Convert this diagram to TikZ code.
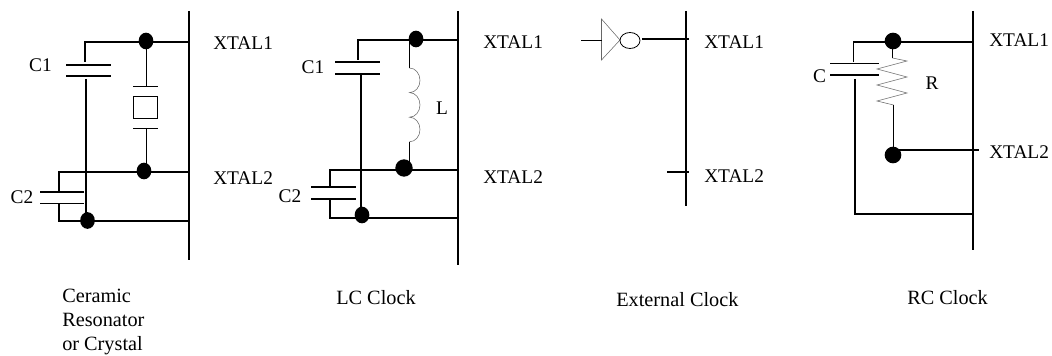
\documentclass[tikz,border=0pt]{standalone}
\usepackage{fontspec}
\setmainfont{Liberation Serif}
\usetikzlibrary{shapes.geometric}
\tikzset{
  bus/.style={line width=1.6pt},
  wire/.style={line width=1.35pt},
  thinwire/.style={line width=0.6pt},
  part/.style={line width=0.4pt,draw=black!60},
  dot/.style={ellipse,fill=black,inner sep=0pt,minimum width=11pt,minimum height=12.5pt},
  lab/.style={inner sep=0pt,font=\fontsize{14.5}{18}\selectfont},
  xtal/.style={lab,anchor=west},
  capt/.style={xtal,font=\fontsize{15.2}{18}\selectfont},
}
\begin{document}
\begin{tikzpicture}[x=0.75pt,y=-0.75pt]
\useasboundingbox (0,0) rectangle (1052,356);
%ceramic resonator
\coordinate (A1) at (189,11); \coordinate (A2) at (189,260);
\draw[bus] (A1)--(A2);
\node[dot] (a1) at (146,41) {};
\node[dot] (a2) at (144,171) {};
\node[dot] (a3) at (87.5,220.5) {};
\coordinate (a4) at (189,42); \coordinate (a5) at (189,172); \coordinate (a6) at (189,221);
\draw[wire] (a4)--(85,42)--(85,62);
\draw[wire] (66,65)--(111,65) (66,76)--(111,76);
\draw[wire] (86,79)--(86,220);
\draw[wire] (a5)--(59,172)--(59,192);
\draw[wire] (40,192)--(84,192) (40,203.5)--(84,203.5);
\draw[wire] (59,204)--(59,221)--(a6);
\draw[thinwire] (146,42)--(146,86.5);
\draw[thinwire] (133,86.5)--(158,86.5) (133,128)--(158,128);
\draw[thinwire] (133.5,96.5) rectangle (157.5,118);
\draw[thinwire] (146,128)--(146,165);
\node[lab] (c1) at (40.5,65) {C1};
\node[lab] (c2) at (22,197) {C2};
\node[xtal] (x1) at (213,43) {XTAL1};
\node[xtal] (x2) at (213,178) {XTAL2};
%LC clock
\coordinate (B1) at (458,11); \coordinate (B2) at (458,265);
\draw[bus] (B1)--(B2);
\node[dot] (b1) at (416,39) {};
\node[dot,minimum width=13pt,minimum height=13pt] (b2) at (404,168) {};
\node[dot] (b3) at (362,215) {};
\coordinate (b4) at (458,40); \coordinate (b5) at (458,170); \coordinate (b6) at (458,218);
\draw[wire] (b4)--(358,40)--(358,60);
\draw[wire] (335,62)--(380,62) (335,74)--(380,74);
\draw[wire] (361,75)--(361,215);
\draw[wire] (b5)--(330,170)--(330,188);
\draw[wire] (311,187)--(356,187) (311,199)--(356,199);
\draw[wire] (330,199)--(330,218)--(b6);
\draw[thinwire] (409.5,40)--(409.5,68);
\draw[part] (409.5,68) arc (-90:90:10.5 and 12.3) arc (-90:90:10.5 and 12.3) arc (-90:90:10.5 and 12.3);
\draw[thinwire] (409.5,142)--(409.5,165);
\node[lab] (c3) at (313,67) {C1};
\node[lab] (c4) at (290,196) {C2};
\node[lab] (l1) at (442,108) {L};
\node[xtal] (x3) at (483,42) {XTAL1};
\node[xtal] (x4) at (483,177) {XTAL2};
%external clock
\coordinate (C1) at (686,11); \coordinate (C2) at (686,206);
\draw[bus] (C1)--(C2);
\draw[part] (601.5,19)--(601.5,60)--(620,40)--cycle;
\node[draw,ellipse,thinwire,inner sep=0pt,minimum width=15pt,minimum height=12pt] (inv) at (630,40.5) {};
\coordinate (d1) at (689,39); \coordinate (d2) at (689,172);
\draw[thinwire] (581,40)--(601.5,40);
\draw[wire] (642,39)--(d1);
\draw[wire] (667,172)--(d2);
\node[xtal] (x5) at (704,42) {XTAL1};
\node[xtal] (x6) at (704,176) {XTAL2};
%RC clock
\coordinate (D1) at (973,11); \coordinate (D2) at (973,250);
\draw[bus] (D1)--(D2);
\node[dot,minimum width=12.5pt] (e1) at (893,41) {};
\node[dot,minimum width=12.5pt] (e2) at (893,155) {};
\coordinate (e3) at (973,42); \coordinate (e4) at (979,150); \coordinate (e5) at (973,214);
\draw[wire] (e3)--(853.5,42)--(853.5,62);
\draw[wire] (830,63.5)--(879,63.5) (830,75)--(879,75);
\draw[wire] (855,79)--(855,214)--(e5);
\draw[wire] (893,150)--(e4);
\draw[thinwire] (892.5,42)--(892.5,58);
\draw[part] (892.5,58)--(907,61)--(877,69)--(907,77)--(877,85)--(907,93)--(877,101)--(893.5,105);
\draw[wire] (893.5,105)--(893.5,155);
\node[lab] (c5) at (819.5,76) {C};
\node[lab] (r1) at (932,83) {R};
\node[xtal] (x7) at (989,40) {XTAL1};
\node[xtal] (x8) at (989,152) {XTAL2};
%captions
\node[capt,align=left] (t1) at (62,321.5) {Ceramic\\Resonator\\or Crystal};
\node[capt] (t2) at (336,298) {LC Clock};
\node[capt] (t3) at (616,300) {External Clock};
\node[capt] (t4) at (907,298) {RC Clock};
\end{tikzpicture}
\end{document}
